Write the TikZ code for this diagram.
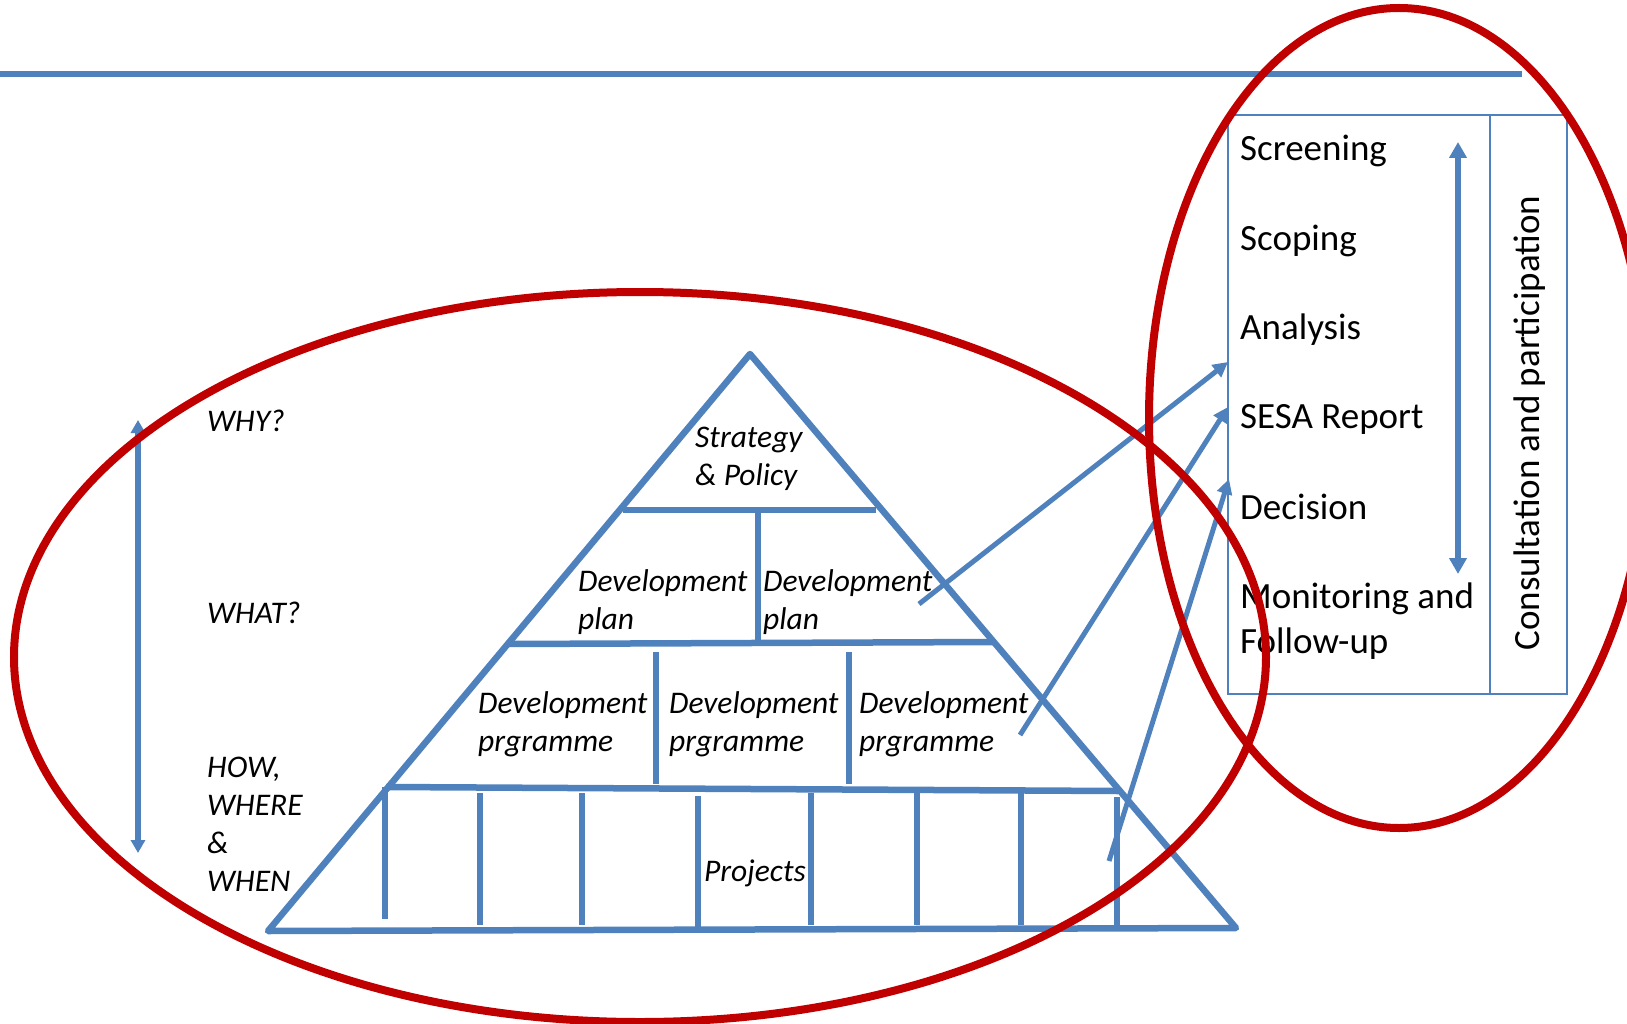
\documentclass[tikz,border=0pt]{standalone}
\usepackage{fontspec}
\setmainfont{Carlito}
\usetikzlibrary{arrows.meta}
\definecolor{ob}{HTML}{4F81BD}
\definecolor{rd}{HTML}{C00000}
\begin{document}
\begin{tikzpicture}[x=1pt,y=-1pt,
  pyr/.style={draw=ob, line width=6.5pt},
  divl/.style={draw=ob, line width=5.5pt},
  thinbox/.style={draw=ob, line width=2.5pt},
  lab/.style={font=\fontsize{31.5}{38}\selectfont\itshape, inner sep=0pt, align=left, anchor=west},
  sesa/.style={font=\fontsize{37}{45}\selectfont, inner sep=0pt, align=left, anchor=west},
  link/.style={draw=ob, line width=5pt, -{Triangle[length=15pt,width=15pt]}},
  ring/.style={draw=rd, line width=8pt}]
\useasboundingbox (0,0) rectangle (1627,1024);

% top rule
\coordinate (tl0) at (0,74);
\coordinate (tl1) at (1522,74);
\draw[draw=ob, line width=6pt] (tl0) -- (tl1);

% pyramid
\coordinate (apex) at (750,354);
\coordinate (bl) at (268,931);
\coordinate (br) at (1236,928);
\draw[pyr, line join=round] (apex) -- (br) -- (bl) -- cycle;

\coordinate (h1a) at (623,510); \coordinate (h1b) at (876,510);
\coordinate (h2a) at (508,644); \coordinate (h2b) at (993,642);
\coordinate (h3a) at (386,787); \coordinate (h3b) at (1118,791);
\draw[pyr] (h1a) -- (h1b);
\draw[pyr] (h2a) -- (h2b);
\draw[pyr] (h3a) -- (h3b);

% dividers
\draw[divl] (758,512) -- (758,643);
\draw[divl] (656,652) -- (656,784);
\draw[divl] (849,652) -- (849,784);
\foreach \x/\a/\b in {385/787/919, 480/793/925, 582/793/925, 698/796/929, 811/793/925, 917/793/925, 1021/793/925, 1117/797/925}
  \draw[divl] (\x,\a) -- (\x,\b);

% pyramid labels
\node[lab] (sp) at (695,459) {Strategy\\\& Policy};
\node[lab] (dp1) at (578,602) {Development\\plan};
\node[lab] (dp2) at (763,602) {Development\\plan};
\node[lab] (pg1) at (478,724) {Development\\prgramme};
\node[lab] (pg2) at (669,724) {Development\\prgramme};
\node[lab] (pg3) at (859,724) {Development\\prgramme};
\node[lab, anchor=center] (pj) at (755,873) {Projects};

% left labels
\node[lab] (why) at (207,421) {WHY?};
\node[lab] (what) at (207,613) {WHAT?};
\node[lab] (how) at (207,824) {HOW,\\WHERE\\\&\\WHEN};
\coordinate (la0) at (138,420);
\coordinate (la1) at (138,853);
\draw[draw=ob, line width=5.5pt, {Triangle[length=13pt,width=14pt]}-{Triangle[length=13pt,width=14pt]}] (la0) -- (la1);

% SESA box
\coordinate (bx0) at (1228,115);
\coordinate (bx1) at (1567,694);
\draw[thinbox] (bx0) rectangle (bx1);
\coordinate (dv0) at (1490,115);
\coordinate (dv1) at (1490,694);
\draw[thinbox] (dv0) -- (dv1);

\node[sesa] (s1) at (1240,151) {Screening};
\node[sesa] (s2) at (1240,241) {Scoping};
\node[sesa] (s3) at (1240,330) {Analysis};
\node[sesa] (s4) at (1240,419) {SESA Report};
\node[sesa] (s5) at (1240,507) {Decision};
\node[sesa] (s6) at (1240,621) {Monitoring and\\Follow-up};
\node[sesa, anchor=center, rotate=90] (cp) at (1530,423) {Consultation and participation};

\coordinate (ra0) at (1458,142);
\coordinate (ra1) at (1458,574);
\draw[draw=ob, line width=5.5pt, {Triangle[length=16pt,width=17pt]}-{Triangle[length=16pt,width=17pt]}] (ra0) -- (ra1);

% links
\coordinate (l1s) at (919,604); \coordinate (l1e) at (1228,362);
\coordinate (l2s) at (1020,735); \coordinate (l2e) at (1228,407);
\coordinate (l3s) at (1109,861); \coordinate (l3e) at (1229,479);
\draw[link] (l1s) -- (l1e);
\draw[link] (l2s) -- (l2e);
\draw[link] (l3s) -- (l3e);

% red rings
\draw[ring] (640,657) ellipse [x radius=626pt, y radius=365pt];
\draw[ring] (1399,418) ellipse [x radius=250pt, y radius=410pt];
\end{tikzpicture}
\end{document}
